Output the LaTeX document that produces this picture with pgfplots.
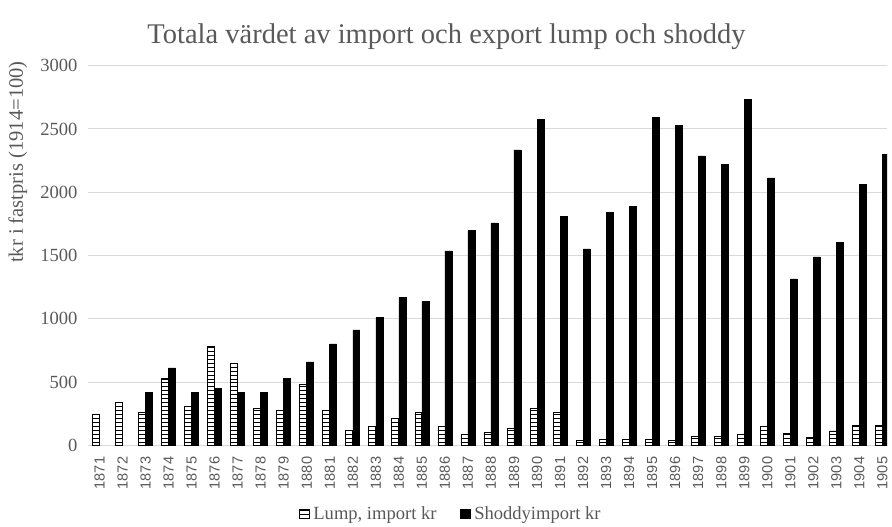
\documentclass[border=0pt]{standalone}
\usepackage{fontspec}
\setmainfont{Liberation Serif}
\newfontfamily\sansf{Liberation Sans}
\usepackage{pgfplots}
\pgfplotsset{compat=1.18}
\usetikzlibrary{patterns}
\definecolor{txt}{HTML}{595959}
\definecolor{gridc}{HTML}{D9D9D9}
\begin{document}
\begin{tikzpicture}[x=1pt,y=1pt]
\path (0,0) rectangle (669,396.75);
\begin{axis}[
  at={(66pt,60.75pt)}, anchor=south west,
  scale only axis, width=603pt, height=286.5pt,
  ybar=0pt, bar width=5.25pt,
  xmin=-0.52, xmax=34.2, ymin=0, ymax=3000,
  axis x line*=bottom, axis y line*=left,
  y axis line style={draw=none},
  x axis line style={draw=gridc, line width=0.75pt},
  major tick length=0pt,
  ytick={0,500,...,3000},
  ymajorgrids, grid style={draw=gridc, line width=0.75pt},
  xtick={0,...,34},
  xticklabel={\pgfmathparse{int(\tick+1871)}\pgfmathresult},
  xticklabel shift=5pt,
  yticklabel shift=4pt,
  x tick label style={rotate=90, anchor=east, font=\sansf\fontsize{11}{11}\selectfont, text=txt},
  y tick label style={font=\rmfamily\fontsize{14}{14}\selectfont, text=txt},
  /pgf/number format/assume math mode=true,
  /pgf/number format/set thousands separator={},
  scaled y ticks=false,
  legend style={at={(0.455,-0.18)}, anchor=center, draw=none, legend columns=2,
    font=\rmfamily\fontsize{14}{14}\selectfont, text=txt,
    /tikz/every odd column/.append style={column sep=1pt},
    /tikz/every even column/.append style={column sep=16pt}},
  legend image code/.code={\draw[#1] (0pt,-3.5pt) rectangle (7pt,3.5pt);},
]
\addplot[draw=black, line width=0.6pt, fill=white, postaction={pattern=horizontal lines, pattern color=black}] coordinates {
(0,245) (1,340) (2,260) (3,532) (4,310) (5,785) (6,645) (7,292) (8,277) (9,481)
(10,280) (11,118) (12,149) (13,212) (14,262) (15,149) (16,84) (17,100) (18,134) (19,290)
(20,259) (21,37) (22,50) (23,50) (24,50) (25,37) (26,68) (27,68) (28,84) (29,149)
(30,99) (31,63) (32,115) (33,157) (34,157)};
\addplot[draw=black, fill=black] coordinates {
(2,421) (3,613) (4,421) (5,450) (6,421) (7,421) (8,529) (9,660)
(10,803) (11,914) (12,1010) (13,1170) (14,1139) (15,1537) (16,1696) (17,1759) (18,2335) (19,2573)
(20,1809) (21,1552) (22,1843) (23,1887) (24,2589) (25,2526) (26,2288) (27,2222) (28,2733) (29,2113)
(30,1315) (31,1490) (32,1602) (33,2063) (34,2301)};
\legend{{Lump, import kr}, Shoddyimport kr}
\end{axis}
\node[text=txt, font=\rmfamily\fontsize{21.5}{21.5}\selectfont] at (336.75,369) {Totala värdet av import och export lump och shoddy};
\node[text=txt, rotate=90, font=\rmfamily\fontsize{15.5}{15.5}\selectfont] at (13.5,274.5) {tkr i fastpris (1914=100)};
\end{tikzpicture}
\end{document}
